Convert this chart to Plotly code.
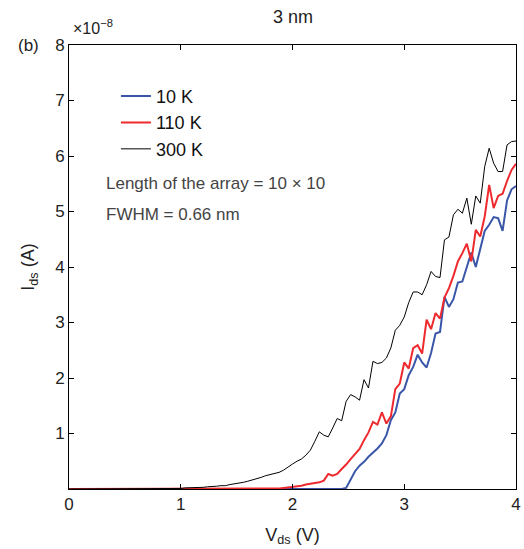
import numpy as np
import plotly.graph_objects as go

# x grid (V), 0.04 V step
vds = [round(0.04 * i, 2) for i in range(101)]

# currents in units of 1e-8 A
i_300K = [0.0] * 25 + [
    0.01, 0.02, 0.02, 0.03, 0.03, 0.03, 0.04, 0.04, 0.05, 0.06,   # 1.00-1.36
    0.06, 0.08, 0.09, 0.11, 0.12, 0.14, 0.16, 0.19, 0.21, 0.24,   # 1.40-1.76
    0.26, 0.27, 0.30, 0.34, 0.40, 0.45, 0.50, 0.54, 0.61, 0.70,   # 1.80-2.16
    0.86, 1.03, 0.97, 0.94, 1.10, 1.27, 1.23, 1.58, 1.70, 1.66,   # 2.20-2.56
    1.60, 1.97, 1.82, 2.30, 2.26, 2.28, 2.36, 2.54, 2.86, 2.95,   # 2.60-2.96
    3.10, 3.36, 3.55, 3.55, 3.50, 3.68, 3.92, 3.83, 3.81, 4.49,   # 3.00-3.36
    4.54, 4.94, 5.04, 4.97, 5.24, 4.77, 5.28, 5.15, 5.81, 6.14,   # 3.40-3.76
    5.87, 5.72, 5.72, 6.20, 6.26, 6.27]                           # 3.80-4.00

i_110K = [0.0] * 47 + [
    0.01, 0.02, 0.03, 0.03, 0.04, 0.06, 0.08, 0.09, 0.10, 0.12,   # 1.88-2.24
    0.15, 0.27, 0.24, 0.27, 0.36, 0.44, 0.54, 0.64, 0.72, 0.88,   # 2.28-2.64
    1.02, 1.21, 1.16, 1.38, 1.18, 1.31, 1.80, 1.90, 2.28, 2.17,   # 2.68-3.04
    2.54, 2.59, 2.44, 3.05, 2.88, 3.17, 3.07, 3.45, 3.62, 3.84,   # 3.08-3.44
    4.10, 4.25, 4.42, 4.10, 4.67, 4.55, 4.91, 5.48, 5.06, 5.28,   # 3.48-3.84
    5.32, 5.55, 5.75, 5.86]                                       # 3.88-4.00

i_10K = [0.0] * 62 + [
    0.02, 0.16, 0.32, 0.42, 0.49, 0.58, 0.65, 0.73, 0.82, 0.97,   # 2.48-2.84
    1.24, 1.38, 1.72, 1.80, 2.05, 2.20, 2.42, 2.28, 2.19, 2.45,   # 2.88-3.24
    2.80, 2.83, 3.46, 3.28, 3.42, 3.72, 3.74, 3.98, 4.26, 4.00,   # 3.28-3.64
    4.35, 4.65, 4.76, 4.90, 4.88, 4.65, 5.20, 5.40, 5.46]         # 3.68-4.00

x_ticks = [0, 1, 2, 3, 4]
y_ticks = [1, 2, 3, 4, 5, 6, 7, 8]

FONT = "Liberation Sans, Arial, sans-serif"
TXT = "#222222"

fig = go.Figure()
fig.add_trace(go.Scatter(x=vds, y=i_10K, mode="lines", name="10 K",
                         line=dict(color="#3a56a8", width=2), legendgroup="a"))
fig.add_trace(go.Scatter(x=vds, y=i_110K, mode="lines", name="110 K",
                         line=dict(color="#ee2a2e", width=2), legendgroup="b"))
fig.add_trace(go.Scatter(x=vds, y=i_300K, mode="lines", name="300 K",
                         line=dict(color="#000000", width=1), legendgroup="c"))

axis_common = dict(showline=True, linecolor="black", linewidth=1, mirror="ticks",
                   ticks="inside", ticklen=5, tickcolor="black", showgrid=False,
                   zeroline=False, automargin=False, tickfont=dict(size=17, color=TXT))

fig.update_xaxes(range=[0, 4], tickvals=x_ticks, ticktext=[str(v) for v in x_ticks],
                 title=dict(text="V<sub>ds</sub> (V)", font=dict(size=18, color=TXT), standoff=14),
                 **axis_common)
fig.update_yaxes(range=[0, 8], tickvals=y_ticks, ticktext=[str(v) for v in y_ticks],
                 title=dict(text="I<sub>ds</sub> (A)", font=dict(size=18, color=TXT), standoff=15),
                 **axis_common)

fig.update_layout(
    width=524, height=549,
    margin=dict(l=69, r=8, t=45, b=60),
    paper_bgcolor="white", plot_bgcolor="white",
    font=dict(family=FONT, color=TXT),
    showlegend=True,
    legend=dict(x=0.105, y=0.926, xanchor="left", yanchor="top", bgcolor="rgba(0,0,0,0)",
                font=dict(size=18, color="#111"), tracegroupgap=4, traceorder="normal"),
    annotations=[
        dict(text="3 nm", x=0.5, y=1, xref="paper", yref="paper", yshift=28,
             showarrow=False, font=dict(size=18, color=TXT), yanchor="middle"),
        dict(text="×10<sup>−8</sup>", x=0, y=1, xref="paper", yref="paper", xshift=2, yshift=18,
             showarrow=False, xanchor="left", yanchor="middle", font=dict(size=16, color=TXT)),
        dict(text="(b)", x=0, y=1, xref="paper", yref="paper", xshift=-28, yshift=0,
             showarrow=False, xanchor="right", yanchor="middle", font=dict(size=17, color=TXT)),
        dict(text="Length of the array = 10 × 10", x=0.078, y=(489 - 183) / 55.5, xref="paper", yref="y",
             showarrow=False, xanchor="left", yanchor="middle", font=dict(size=17, color="#444")),
        dict(text="FWHM = 0.66 nm", x=0.078, y=(489 - 214) / 55.5, xref="paper", yref="y",
             showarrow=False, xanchor="left", yanchor="middle", font=dict(size=17, color="#444")),
    ],
)

fig.write_html("out.html", config={"displayModeBar": False},
               post_script="document.body.style.margin='0';document.body.style.overflow='hidden';")
